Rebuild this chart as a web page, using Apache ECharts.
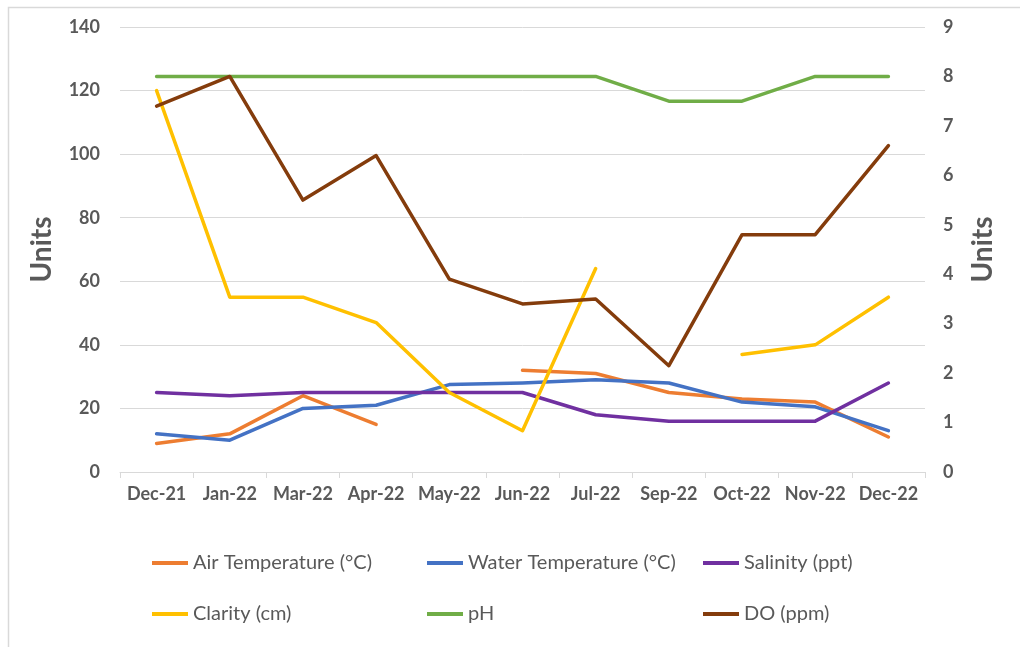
<!DOCTYPE html>
<html>
<head>
<meta charset="utf-8">
<script src="https://cdn.jsdelivr.net/npm/echarts@6/dist/echarts.min.js"></script>
<style>
html,body{margin:0;padding:0;background:#fff;}
#chart{width:1020px;height:647px;}
</style>
</head>
<body>
<div id="chart"></div>
<script>
const categories = ['Dec-21','Jan-22','Mar-22','Apr-22','May-22','Jun-22','Jul-22','Sep-22','Oct-22','Nov-22','Dec-22'];
const airTemp   = [9, 12, 24, 15, null, 32, 31, 25, 23, 22, 11];
const waterTemp = [12, 10, 20, 21, 27.5, 28, 29, 28, 22, 20.5, 13];
const salinity  = [25, 24, 25, 25, 25, 25, 18, 16, 16, 16, 28];
const clarity   = [120, 55, 55, 47, 25, 13, 64, null, 37, 40, 55];
const pH        = [8, 8, 8, 8, 8, 8, 8, 7.5, 7.5, 8, 8];
const dissolvedO2 = [7.4, 8, 5.5, 6.4, 3.9, 3.4, 3.5, 2.15, 4.8, 4.8, 6.6];
const leftTicks = { min: 0, max: 140, interval: 20 };
const rightTicks = { min: 0, max: 9, interval: 1 };

const FONT = 'Lato';
const GREY = '#595959';

const seriesDefs = [
  { name: 'Air Temperature (°C)', data: airTemp, color: '#ED7D31', axis: 0 },
  { name: 'Water Temperature (°C)', data: waterTemp, color: '#4472C4', axis: 0 },
  { name: 'Salinity (ppt)', data: salinity, color: '#7030A0', axis: 0 },
  { name: 'Clarity (cm)', data: clarity, color: '#FFC000', axis: 0 },
  { name: 'pH', data: pH, color: '#70AD47', axis: 1 },
  { name: 'DO (ppm)', data: dissolvedO2, color: '#843C0C', axis: 1 }
];

const legendPos = [
  { left: 152, top: 553 }, { left: 427, top: 553 }, { left: 703, top: 553 },
  { left: 152, top: 604 }, { left: 427, top: 604 }, { left: 703, top: 604 }
];

const chart = echarts.init(document.getElementById('chart'), null, { renderer: 'canvas' });
chart.setOption({
  backgroundColor: '#fff',
  animation: false,
  graphic: [{
    type: 'rect', left: 6, top: 5, silent: true,
    shape: { width: 1200, height: 800 },
    style: { fill: 'none', stroke: '#d9d9d9', lineWidth: 1.5 }
  }],
  grid: { left: 120, right: 95, top: 27, bottom: 175, containLabel: false },
  legend: seriesDefs.map((s, i) => ({
    data: [s.name],
    left: legendPos[i].left,
    top: legendPos[i].top,
    padding: 0,
    icon: 'rect',
    itemWidth: 36,
    itemHeight: 4,
    itemGap: 0,
    selectedMode: false,
    textStyle: { fontFamily: FONT, fontSize: 20, color: GREY, padding: [0, 0, 0, 0] }
  })),
  xAxis: {
    type: 'category',
    data: categories,
    boundaryGap: true,
    axisLine: { lineStyle: { color: '#d9d9d9', width: 1 } },
    axisTick: { show: true, length: 6, lineStyle: { color: '#d9d9d9' } },
    axisLabel: { fontFamily: FONT, fontWeight: 'bold', fontSize: 18, color: GREY, margin: 13, interval: 0 },
    splitLine: { show: false }
  },
  yAxis: [
    {
      type: 'value', position: 'left',
      min: leftTicks.min, max: leftTicks.max, interval: leftTicks.interval,
      name: 'Units', nameLocation: 'middle', nameRotate: 90, nameGap: 64,
      nameTextStyle: { fontFamily: FONT, fontWeight: 'bold', fontSize: 28, color: GREY },
      axisLine: { show: false }, axisTick: { show: false },
      axisLabel: { fontFamily: FONT, fontWeight: 'bold', fontSize: 18, color: GREY, margin: 20 },
      splitLine: { show: true, lineStyle: { color: '#d9d9d9', width: 1 } }
    },
    {
      type: 'value', position: 'right',
      min: rightTicks.min, max: rightTicks.max, interval: rightTicks.interval,
      name: 'Units', nameLocation: 'middle', nameRotate: 90, nameGap: 44,
      nameTextStyle: { fontFamily: FONT, fontWeight: 'bold', fontSize: 28, color: GREY },
      axisLine: { show: false }, axisTick: { show: false },
      axisLabel: { fontFamily: FONT, fontWeight: 'bold', fontSize: 18, color: GREY, margin: 18 },
      splitLine: { show: false }
    }
  ],
  series: seriesDefs.map(s => ({
    name: s.name,
    type: 'line',
    yAxisIndex: s.axis,
    data: s.data,
    connectNulls: false,
    symbol: 'none',
    color: s.color,
    lineStyle: { color: s.color, width: 3.5, cap: 'round', join: 'round' },
    itemStyle: { color: s.color }
  }))
});
</script>
</body>
</html>
